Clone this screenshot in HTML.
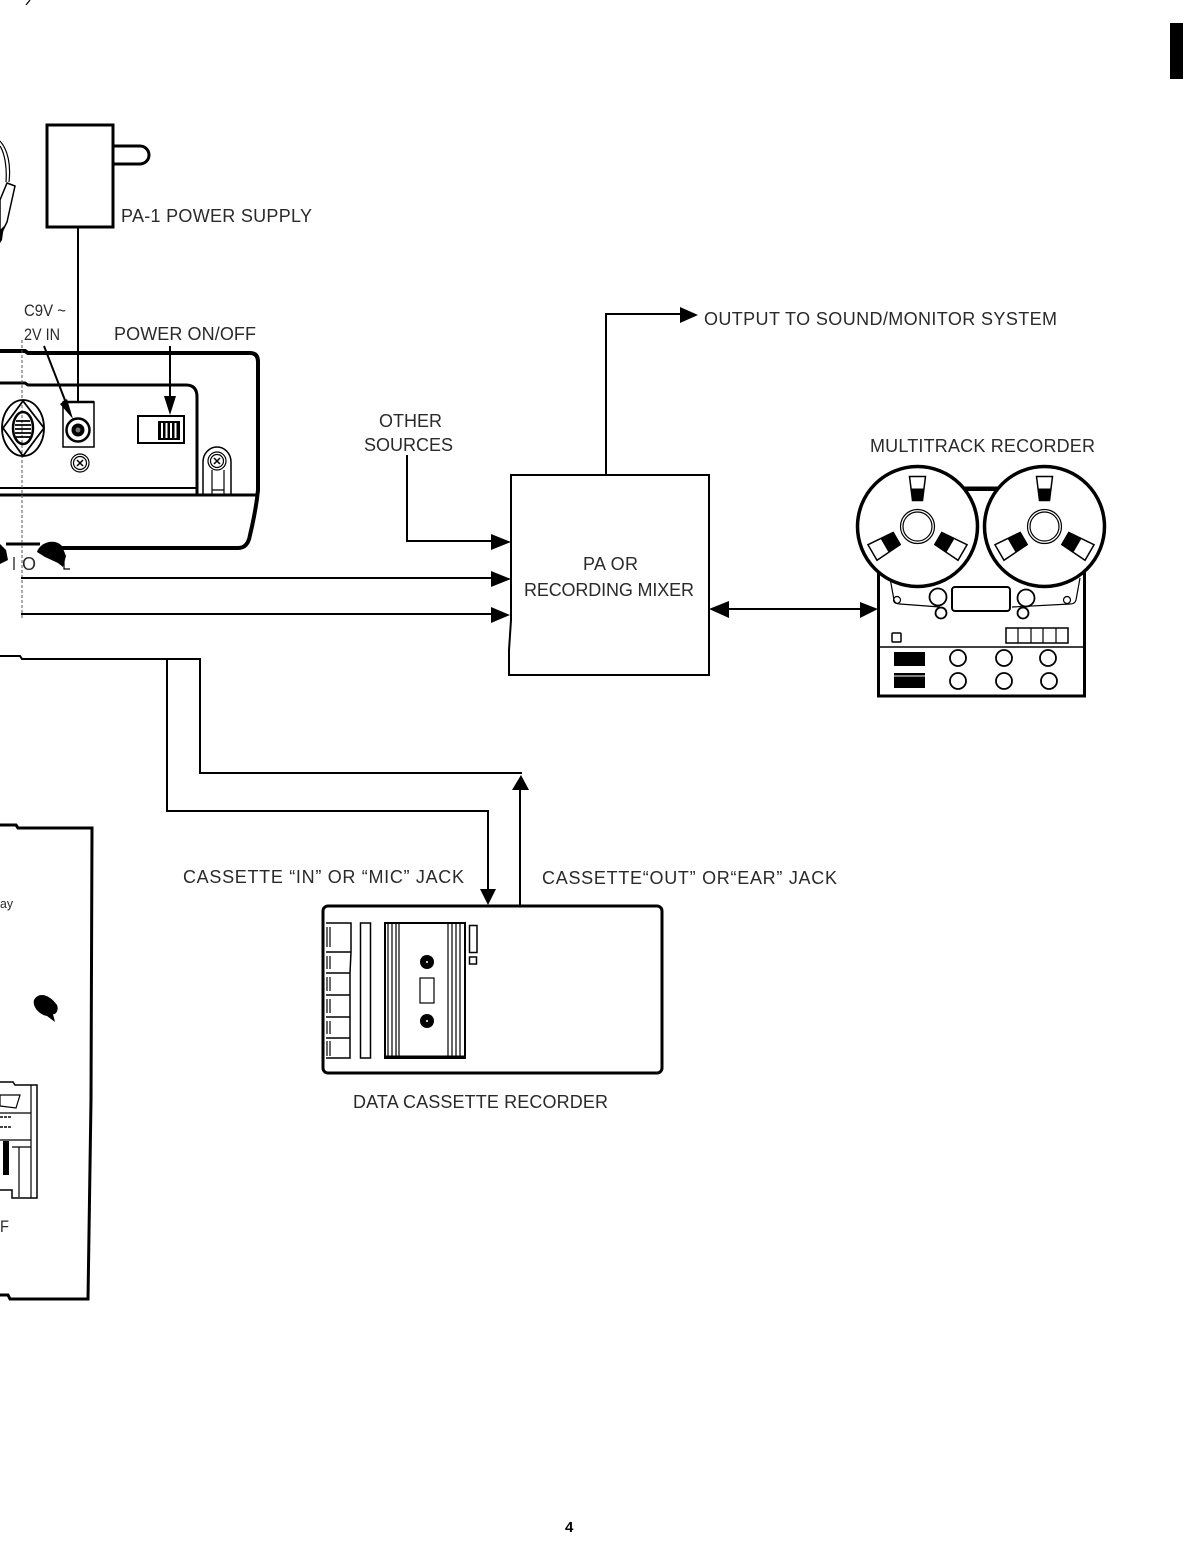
<!DOCTYPE html>
<html><head><meta charset="utf-8"><style>
html,body{margin:0;padding:0;background:#fff}
svg{display:block}
text{font-family:"Liberation Sans",sans-serif;font-size:18px;fill:#2a2a2a}
.l{fill:none;stroke:#000;stroke-width:2}
.t{fill:none;stroke:#000;stroke-width:1.200}
.k{fill:none;stroke:#000;stroke-width:3}
</style></head><body>
<svg width="1183" height="1564" viewBox="0 0 1183 1564" xmlns="http://www.w3.org/2000/svg">
<defs>
<g id="win"><path d="M-8 -50H8L5 -26H-5Z" fill="#fff" stroke="#000" stroke-width="1.500"/><path d="M-6.500 -38H6.500L5 -26H-5Z" fill="#000"/></g>
<g id="win2"><path d="M-9 -52H9L7 -24H-7Z" fill="#fff" stroke="#000" stroke-width="1.500"/><path d="M-8 -38H8L7 -24H-7Z" fill="#000"/></g>
<g id="reel"><circle r="60" fill="#fff" stroke="#000" stroke-width="3.500"/><circle r="17" class="t"/><circle r="14.500" class="t"/><use href="#win"/><use href="#win2" transform="rotate(120)"/><use href="#win2" transform="rotate(240)"/></g>
<g id="scr"><circle r="9" class="t"/><circle r="6.500" class="t"/><path d="M-3 -3L3 3M3 -3L-3 3" stroke="#000" stroke-width="1.500"/></g>
</defs>
<rect x="1170" y="23" width="13" height="56" fill="#000"/>
<path d="M30 0L26 5" class="t"/>

<!-- headphones -->
<path d="M0 141C8 150 11 165 9 182" class="t"/><path d="M0 146C5 154 7 168 6 182" class="t"/>
<path d="M7 183L15 186L7 222L0 236V200Z" fill="#fff" stroke="#000" stroke-width="1.500"/>
<path d="M0 230L4 226L2 240L0 243Z" fill="#000"/>

<!-- power supply -->
<rect x="47" y="125" width="66" height="102" fill="#fff" stroke="#000" stroke-width="3"/>
<path d="M113 146H140A9 9 0 0 1 140 164H113" class="k"/>
<path d="M78 227V425" class="l"/>

<!-- panel -->
<path d="M0 351H25L28 353H250Q258 353 258 362V490Q256 510 250 535Q248 548 238 548H60" fill="none" stroke="#000" stroke-width="4"/>
<path d="M0 383H25L28 385H186Q197 385 197 397V495" class="k"/>
<path d="M0 488H197" class="l"/>
<path d="M0 495H258" class="k"/>
<path d="M6 544H40" class="k"/>
<path d="M22 340V620" stroke="#555" stroke-width="1" stroke-dasharray="3 2"/>

<!-- hex connector -->
<ellipse cx="23" cy="428" rx="21" ry="28" fill="none" stroke="#000" stroke-width="1.800"/>
<path d="M3 428L23 401L44 428L23 456Z" fill="none" stroke="#000" stroke-width="1.800"/>
<ellipse cx="23" cy="428" rx="10" ry="16" fill="none" stroke="#000" stroke-width="2.500"/>
<path d="M16 421H30M15 425H31M15 429H31M15 433H31M16 437H30" stroke="#000" stroke-width="1.800"/>

<!-- power jack -->
<rect x="63" y="402" width="31" height="45" fill="#fff" stroke="#000" stroke-width="1.500"/>
<path d="M63 402H94" stroke="#000" stroke-width="2.500"/>
<circle cx="78" cy="430" r="11.500" fill="#fff" stroke="#000" stroke-width="2.500"/>
<circle cx="78" cy="430" r="6.500" fill="#000"/><circle cx="78" cy="430" r="2.500" fill="#777"/>
<use href="#scr" x="80" y="463"/>

<!-- switch -->
<rect x="138" y="416" width="46" height="27" fill="#fff" stroke="#000" stroke-width="2"/>
<rect x="158" y="421" width="22" height="19" fill="#000"/>
<path d="M162 423V438M166.500 423V438M171 423V438M175.500 423V438" stroke="#fff" stroke-width="2"/>

<!-- arrows to panel -->
<path d="M170 346V400" class="l"/><path d="M164 396H176L170 415Z" fill="#000"/>
<path d="M44 346L68 408" class="l"/><path d="M60 404L67 399L73 419Z" fill="#000"/>

<!-- latch -->
<path d="M203 494V462A14 15 0 0 1 231 462V494" fill="none" stroke="#000" stroke-width="1.500"/>
<use href="#scr" x="217" y="461"/>
<path d="M212 470V494M224 470V494M212 490H224" class="t"/>

<!-- blobs -->
<path d="M37 552C40 542 55 538 62 546L66 556L63 567L58 563L45 557Z" fill="#000"/>
<path d="M0 544L6 550L8 560L0 564Z" fill="#000"/>
<text x="22" y="570" textLength="14" lengthAdjust="spacingAndGlyphs">O</text>
<text x="12" y="570" textLength="4" lengthAdjust="spacingAndGlyphs" fill="#555">I</text>
<path d="M64 556V569H70" class="t"/>

<!-- lines into mixer -->
<path d="M21 578H495M21 614H495" class="l"/>
<path d="M407 455V541H495" class="l"/>
<path d="M491 534L511 542L491 550Z M491 571L511 579L491 587Z M491 607L510 615L491 623Z" fill="#000"/>

<!-- mixer -->
<path d="M511 475H709V675H509V650L511 620Z" fill="#fff" stroke="#000" stroke-width="2"/>
<path d="M606 475V314H685" class="l"/>
<path d="M680 307L698 315L680 323Z" fill="#000"/>
<path d="M709 609L729 601V618Z" fill="#000"/><path d="M725 609H865" class="l"/><path d="M860 602L878 609L860 618Z" fill="#000"/>

<!-- multitrack recorder -->
<rect x="878.500" y="488" width="206" height="208" fill="#fff" stroke="#000" stroke-width="3"/>
<path d="M878 489H1085" stroke="#000" stroke-width="4"/>
<path d="M890 578L894 600Q895 604 900 604L940 607M1012 607L1070 604Q1075 604 1076 600L1080 578" class="t"/>
<circle cx="897" cy="600" r="3.500" class="t"/><circle cx="1067" cy="600" r="3.500" class="t"/>
<circle cx="938" cy="597" r="8.500" fill="#fff" stroke="#000" stroke-width="1.800"/>
<circle cx="1026" cy="598" r="8.500" fill="#fff" stroke="#000" stroke-width="1.800"/>
<circle cx="941" cy="613" r="5.500" fill="#fff" stroke="#000" stroke-width="1.800"/>
<circle cx="1023" cy="613" r="5.500" fill="#fff" stroke="#000" stroke-width="1.800"/>
<rect x="952" y="587" width="58" height="24" rx="3" fill="#fff" stroke="#000" stroke-width="2"/>
<use href="#reel" x="917.500" y="526.500"/><use href="#reel" x="1044.500" y="526.500"/>
<rect x="892" y="633" width="9" height="9" rx="1" fill="none" stroke="#000" stroke-width="1.500"/>
<rect x="1006" y="628" width="62" height="15" fill="none" stroke="#000" stroke-width="1.500"/>
<path d="M1018 628V643M1031 628V643M1043 628V643M1056 628V643" class="t"/>
<path d="M880 647H1084" fill="none" stroke="#000" stroke-width="1.500"/>
<rect x="894" y="652" width="31" height="14" fill="#000"/><rect x="894" y="673" width="31" height="15" fill="#000"/>
<path d="M894 676H925" stroke="#fff" stroke-width="1"/>
<g fill="none" stroke="#000" stroke-width="1.800">
<circle cx="958" cy="658" r="8"/><circle cx="1004" cy="658" r="8"/><circle cx="1048" cy="658" r="8"/>
<circle cx="958" cy="681" r="8"/><circle cx="1004" cy="681" r="8"/><circle cx="1049" cy="681" r="8"/>
</g>

<!-- cassette wires -->
<path d="M0 656H20L22 659H200V773H522" class="l"/>
<path d="M167 659V811H488V895" class="l"/>
<path d="M480 889H496L488 905Z" fill="#000"/>
<path d="M520 905V785" class="l"/><path d="M512 790H529L521 775Z" fill="#000"/>

<!-- cassette recorder -->
<rect x="323" y="906" width="339" height="167" rx="5" fill="#fff" stroke="#000" stroke-width="3"/>
<path d="M326 923H351V952H326M326 952H351L350 973H326M326 973H350V995H326M326 995H350V1017H326M326 1017H350V1038H326M326 1038H350V1058H326" fill="none" stroke="#000" stroke-width="1.500"/>
<path d="M327 927V947M330 927V947M327 956V969M330 956V969M327 977V991M330 977V991M327 999V1013M330 999V1013M327 1021V1034M330 1021V1034M327 1041V1056M330 1041V1056" class="t"/>
<rect x="360.500" y="923" width="10" height="135" fill="none" stroke="#000" stroke-width="1.500"/>
<rect x="385" y="923" width="80" height="135" fill="none" stroke="#000" stroke-width="2"/>
<path d="M388 923V1058M392 923V1058M396 923V1058M399 923V1058M448 923V1058M452 923V1058M456 923V1058M460 923V1058" class="t"/>
<path d="M385 1057H465" class="k"/>
<circle cx="427" cy="962" r="7" fill="#000"/><circle cx="427" cy="1021" r="7" fill="#000"/>
<circle cx="427" cy="962" r="1" fill="#fff"/><circle cx="427" cy="1021" r="1" fill="#fff"/>
<rect x="420" y="978" width="14" height="25" class="t"/>
<rect x="469.500" y="925.500" width="7.500" height="27" fill="none" stroke="#000" stroke-width="1.500"/>
<rect x="469.500" y="957" width="7" height="7" fill="none" stroke="#000" stroke-width="1.500"/>

<!-- keyboard case -->
<path d="M0 825H16L18 828H92L91 1100L88 1299H10L8 1295H0" class="k"/>
<path d="M34 1000C39 991 50 995 57 1005C59 1010 56 1015 53 1014L55 1022L47 1016C40 1015 32 1007 34 1000Z" fill="#000"/>
<path d="M0 1082H13L15 1085H37V1198H12V1190H0" fill="none" stroke="#000" stroke-width="1.500"/>
<path d="M31 1085V1198M0 1113H31M0 1140H31M12 1147H31M19 1147V1197" class="t"/>
<rect x="3" y="1141" width="6" height="34" fill="#000"/>
<path d="M0 1095H20L16 1108L0 1106Z" class="t"/>
<path d="M0 1117H12M0 1127H12" stroke="#444" stroke-width="2" stroke-dasharray="3 1"/>

<!-- labels -->
<text x="121" y="222" textLength="191">PA-1 POWER SUPPLY</text>
<text x="24" y="316" textLength="42" lengthAdjust="spacingAndGlyphs" style="font-size:17px">C9V ~</text>
<text x="24" y="340" textLength="36" lengthAdjust="spacingAndGlyphs" style="font-size:17px">2V IN</text>
<text x="114" y="340" textLength="142">POWER ON/OFF</text>
<text x="379" y="427" textLength="63">OTHER</text>
<text x="364" y="451" textLength="89">SOURCES</text>
<text x="704" y="325" textLength="353">OUTPUT TO SOUND/MONITOR SYSTEM</text>
<text x="870" y="452" textLength="225">MULTITRACK RECORDER</text>
<text x="583" y="570" textLength="55">PA OR</text>
<text x="524" y="596" textLength="170">RECORDING MIXER</text>
<text x="183" y="883" textLength="281">CASSETTE “IN” OR “MIC” JACK</text>
<text x="542" y="884" textLength="295">CASSETTE“OUT” OR“EAR” JACK</text>
<text x="353" y="1108" textLength="255">DATA CASSETTE RECORDER</text>
<text x="0" y="908" textLength="13" lengthAdjust="spacingAndGlyphs" style="font-size:13px">ay</text>
<text x="0" y="1232" textLength="9" lengthAdjust="spacingAndGlyphs" style="font-size:17px">F</text>
<text x="565" y="1532" style="font-size:15px;font-weight:bold;fill:#000">4</text>
</svg>
</body></html>
